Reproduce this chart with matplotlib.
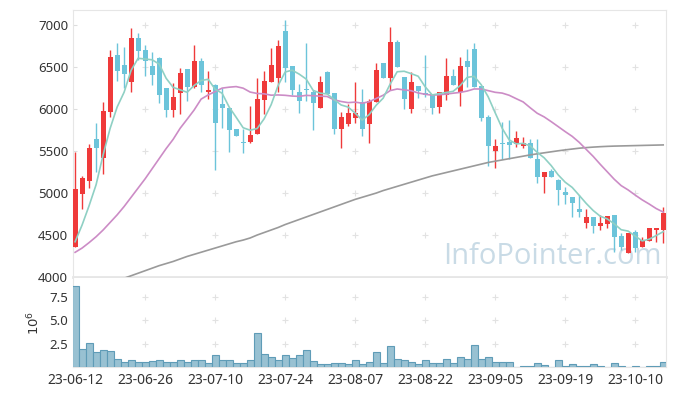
import matplotlib
matplotlib.use('Agg')
import matplotlib.pyplot as plt
import numpy as np
import pandas as pd

# trading days (KRX holidays removed)
holidays = ['2023-08-15', '2023-09-28', '2023-09-29', '2023-10-02',
            '2023-10-03', '2023-10-09']
dates = pd.bdate_range('2023-06-12', '2023-10-16', freq='C', holidays=holidays)

opens = [4361, 4992, 5147, 5639, 5420, 5968, 6643, 6524, 6325, 6845,
         6702, 6512, 6607, 6250, 5996, 6194, 6476, 6266, 6571, 6199,
         6294, 6060, 6012, 5758, 5604, 5611, 5706, 6111, 6325, 6373,
         6929, 6512, 6202, 6234, 6210, 6016, 6440, 6190, 5766, 5821,
         5897, 6088, 5821, 6080, 6548, 6373, 6806, 6389, 6004, 6282,
         6194, 6182, 6028, 6170, 6393, 6199, 6571, 6714, 6274, 5909,
         5500, 5600, 5604, 5580, 5563, 5592, 5401, 5195, 5266, 5155,
         5008, 4952, 4810, 4647, 4714, 4611, 4635, 4738, 4488, 4290,
         4532, 4361, 4432, 4560, 4560]
highs = [5492, 5206, 5580, 5830, 6080, 6702, 6794, 6746, 6972, 6913,
         6762, 6683, 6623, 6258, 6310, 6485, 6480, 6762, 6615, 6453,
         6298, 6258, 6012, 5758, 5762, 6036, 6377, 6452, 6734, 6821,
         7068, 6512, 6306, 6794, 6234, 6393, 6450, 6190, 5964, 6060,
         6321, 6246, 6119, 6556, 6548, 6980, 6820, 6389, 6444, 6282,
         6647, 6182, 6199, 6615, 6480, 6623, 6722, 6786, 6274, 5929,
         5639, 5849, 5869, 5735, 5667, 5639, 5639, 5246, 5286, 5163,
         5076, 4956, 4976, 4806, 4714, 4738, 4726, 4738, 4528, 4528,
         4560, 4472, 4580, 4580, 4837]
lows = [4355, 4806, 5056, 5247, 5226, 5909, 6337, 6258, 6199, 6592,
        6393, 6286, 6068, 5901, 5901, 5937, 6099, 6258, 6206, 6127,
        5274, 5774, 5492, 5683, 5472, 5592, 5699, 5937, 6325, 6206,
        6325, 6167, 5949, 6099, 5750, 6016, 6183, 5699, 5536, 5801,
        5841, 5675, 5592, 6080, 6373, 6234, 6504, 6004, 5949, 6139,
        6147, 5940, 5950, 6107, 6286, 6036, 6266, 6266, 5861, 5325,
        5294, 5401, 5401, 5552, 5532, 5413, 5115, 4996, 5195, 4857,
        4869, 4711, 4711, 4580, 4520, 4560, 4580, 4302, 4321, 4285,
        4298, 4361, 4432, 4417, 4401]
closes = [5048, 5182, 5532, 5540, 5976, 6619, 6456, 6420, 6845, 6694,
          6575, 6408, 6170, 5996, 6151, 6429, 6262, 6571, 6294, 6226,
          5837, 6020, 5754, 5683, 5600, 5690, 6119, 6333, 6524, 6750,
          6488, 6230, 6099, 6230, 6075, 6321, 6183, 5766, 5905, 5952,
          5960, 5766, 6095, 6461, 6373, 6798, 6504, 6123, 6321, 6218,
          6170, 6016, 6199, 6393, 6286, 6512, 6504, 6266, 5893, 5563,
          5560, 5580, 5575, 5655, 5592, 5413, 5195, 5246, 5195, 5036,
          4977, 4885, 4774, 4714, 4611, 4639, 4726, 4480, 4361, 4528,
          4342, 4440, 4580, 4580, 4758]
volume_m = [8.64, 1.96, 2.61, 1.57, 1.86, 1.75, 0.89, 0.50, 0.79, 0.50,
            0.50, 0.61, 0.79, 0.50, 0.50, 0.79, 0.50, 0.79, 0.71, 0.39,
            1.32, 0.71, 0.71, 0.39, 0.39, 0.79, 3.68, 1.43, 1.11, 0.71,
            1.32, 1.00, 1.25, 1.86, 0.68, 0.29, 0.36, 0.47, 0.47, 0.27,
            0.79, 0.36, 0.58, 1.65, 0.47, 2.29, 0.90, 0.79, 0.58, 0.27,
            0.79, 0.46, 0.46, 0.89, 0.46, 1.11, 0.89, 2.39, 0.89, 1.11,
            0.57, 0.57, 0.57, 0.04, 0.14, 0.14, 0.46, 0.25, 0.04, 0.79,
            0.14, 0.36, 0.14, 0.14, 0.36, 0.14, 0.04, 0.46, 0.14, 0.04,
            0.14, 0.04, 0.14, 0.14, 0.57]

# moving-average values before enough closes exist
ma5_head = [4420, 4620, 4850, 5100]
ma20_head = [4294, 4345, 4410, 4480, 4560, 4650, 4740, 4840, 4950, 5060,
             5170, 5290, 5410, 5530, 5640, 5772, 5880, 5990, 6120]
ma120 = [3750, 3785, 3820, 3855, 3890, 3925, 3955, 3985, 4015, 4045,
         4075, 4105, 4135, 4160, 4185, 4215, 4245, 4270, 4295, 4320,
         4345, 4370, 4395, 4420, 4440, 4465, 4500, 4530, 4560, 4590,
         4625, 4655, 4685, 4715, 4745, 4775, 4805, 4835, 4865, 4895,
         4925, 4950, 4975, 5000, 5030, 5055, 5080, 5105, 5130, 5155,
         5180, 5205, 5225, 5245, 5265, 5285, 5305, 5325, 5345, 5365,
         5380, 5395, 5410, 5425, 5440, 5455, 5468, 5480, 5492, 5504,
         5515, 5525, 5535, 5542, 5548, 5553, 5557, 5560, 5562, 5564,
         5566, 5568, 5570, 5572, 5574]

df = pd.DataFrame({'open': opens, 'high': highs, 'low': lows,
                   'close': closes, 'vol': volume_m}, index=dates)
ma5 = df['close'].rolling(5).mean().values
ma5[:4] = ma5_head
ma20 = df['close'].rolling(20).mean().values
ma20[:19] = ma20_head

x = np.arange(len(df))
up = df['close'].values >= df['open'].values
red = '#ef3a3a'
blue = '#6cc4da'
cols = np.where(up, red, blue)

plt.rcParams['font.family'] = ['Noto Sans', 'DejaVu Sans']
fig = plt.figure(figsize=(6.77, 3.96), dpi=100)
ax = fig.add_axes([73 / 677, 1 - 277 / 396, (666 - 73) / 677, 267 / 396])
axv = fig.add_axes([73 / 677, 1 - 367 / 396, (666 - 73) / 677, 89 / 396])

tick_pos = x[::10]
tick_lab = [d.strftime('%y-%m-%d') for d in dates[::10]]

# grid crosses
for a, yt in [(ax, [4500, 5000, 5500, 6000, 6500, 7000]), (axv, [2.5, 5.0, 7.5])]:
    gx, gy = np.meshgrid(tick_pos[1:], yt)
    a.plot(gx.ravel(), gy.ravel(), '+', color='#e2e2e2', ms=5, mew=0.8, zorder=0)

ax.text(0.808, 0.075, 'InfoPointer.com', transform=ax.transAxes, ha='center', va='center',
        fontsize=21, color='#c9dbe6', family='Open Sans', zorder=1)

# candles
ax.vlines(x, df['low'], df['high'], colors=cols, lw=1.0, zorder=3)
body_bot = np.minimum(df['open'], df['close'])
body_h = np.maximum(np.abs(df['close'] - df['open']), 12)
ax.bar(x, body_h, bottom=body_bot, width=0.72, color=cols, zorder=4)

ax.plot(x, ma120, color='#9a9a9a', lw=1.2, zorder=5)
ax.plot(x, ma20, color='#cc8cc6', lw=1.2, zorder=5)
ax.plot(x, ma5, color='#8fd0c4', lw=1.2, zorder=5)

ax.set_xlim(-0.3, 84.4)
ax.set_ylim(4000, 7182)
ax.set_yticks([4000, 4500, 5000, 5500, 6000, 6500, 7000])
ax.set_xticks(tick_pos)
ax.tick_params(axis='x', labelbottom=False, length=0)
ax.tick_params(axis='y', direction='in', length=3, color='#dddddd', labelsize=9.5, colors='#333333')
for s in ax.spines.values():
    s.set_color('#e6e6e6')
ax.spines['bottom'].set_linewidth(2)

# volume
axv.bar(x, df['vol'], width=1.0, color='#98c1d2', edgecolor='#5f9cb7', lw=0.8, zorder=3)
axv.set_xlim(-0.3, 84.4)
axv.set_ylim(0, 9.5)
axv.set_yticks([2.5, 5.0, 7.5])
axv.set_yticklabels(['2.5', '5.0', '7.5'])
axv.set_xticks(tick_pos)
axv.set_xticklabels(tick_lab)
axv.tick_params(axis='x', length=0, labelsize=10, colors='#333333', pad=4)
axv.tick_params(axis='y', direction='in', length=3, color='#dddddd', labelsize=9.5, colors='#333333')
axv.set_ylabel(r'$10^6$', fontsize=9.5, color='#333333', labelpad=5)
for s in axv.spines.values():
    s.set_color('#e6e6e6')
axv.spines['top'].set_visible(False)

plt.savefig('out.png', dpi=100)
